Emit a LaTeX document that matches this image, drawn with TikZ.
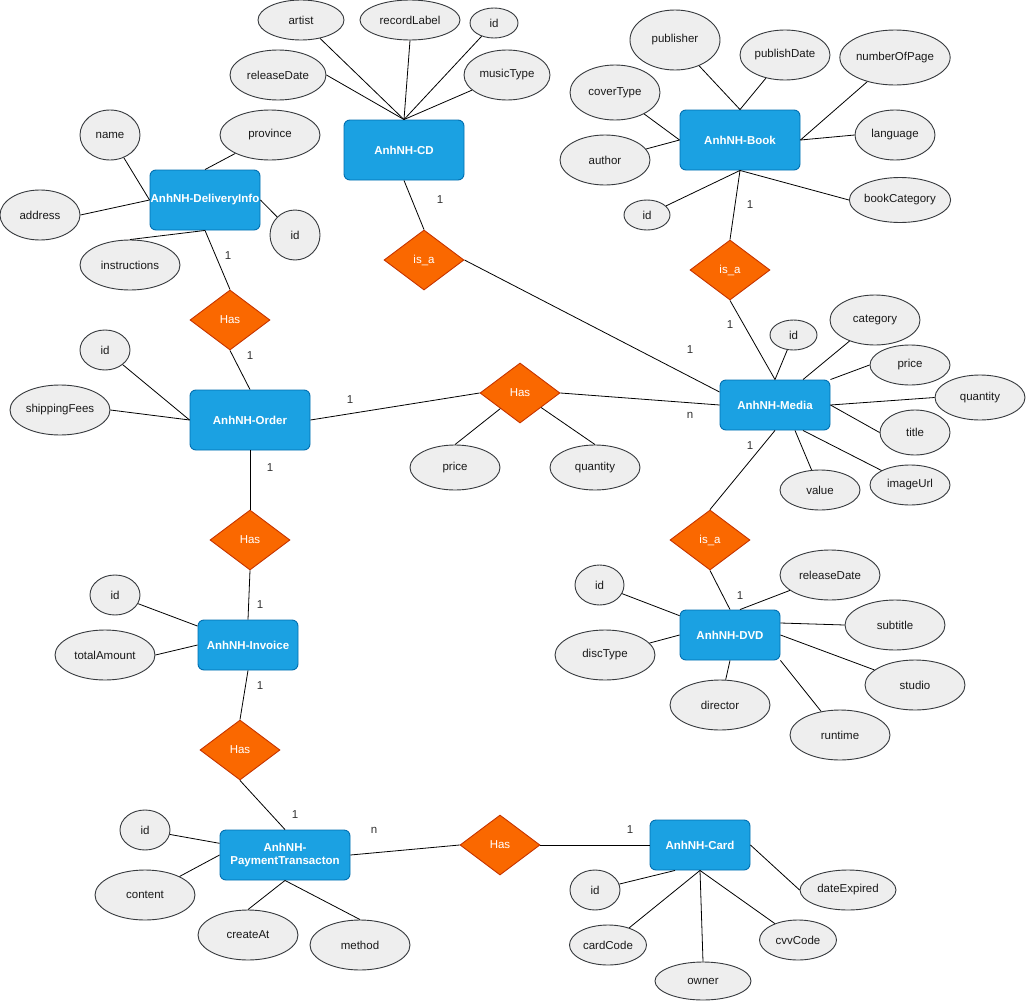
\documentclass[tikz,border=0pt]{standalone}
\usepackage{fontspec}
\setmainfont{Liberation Sans}
\usetikzlibrary{shapes.geometric}
\definecolor{entityfill}{HTML}{1BA1E2}
\definecolor{entitydraw}{HTML}{006EAF}
\definecolor{relfill}{HTML}{FA6800}
\definecolor{reldraw}{HTML}{C73500}
\definecolor{attrfill}{HTML}{EEEEEE}
\definecolor{attrdraw}{HTML}{36393D}
\definecolor{attrtext}{HTML}{1A1A1A}
\definecolor{cardtext}{HTML}{333333}
\newcommand{\erfont}{\fontsize{11.5}{13.5}\selectfont}
\tikzstyle{entity}=[draw=entitydraw, fill=entityfill, rounded corners=6pt, text=white, font=\erfont\bfseries, align=center, inner sep=0, line width=0.9pt]
\tikzstyle{relation}=[diamond, draw=reldraw, fill=relfill, text=white, font=\erfont, inner sep=0, minimum width=80, minimum height=60, line width=0.9pt]
\tikzstyle{attribute}=[ellipse, draw=attrdraw, fill=attrfill, text=attrtext, font=\erfont, inner sep=0, line width=0.9pt]
\tikzstyle{cardinality}=[text=cardtext, font=\erfont]
\tikzstyle{link}=[black, line width=0.8pt]

\begin{document}
\begin{tikzpicture}[x=1pt, y=-1pt]
  \useasboundingbox[fill=white] (0,0) rectangle (1026,1001);

  \node[entity, minimum width=120, minimum height=60] (cd) at (404,150) {AnhNH-CD};
  \node[entity, minimum width=110, minimum height=60] (delivery) at (205,200) {AnhNH-DeliveryInfo};
  \node[entity, minimum width=120, minimum height=60] (book) at (740,140) {AnhNH-Book};
  \node[entity, minimum width=120, minimum height=60] (order) at (250,420) {AnhNH-Order};
  \node[entity, minimum width=110, minimum height=50] (media) at (775,405) {AnhNH-Media};
  \node[entity, minimum width=100, minimum height=50] (invoice) at (248,645) {AnhNH-Invoice};
  \node[entity, minimum width=100, minimum height=50] (dvd) at (730,635) {AnhNH-DVD};
  \node[entity, minimum width=130, minimum height=50] (payment) at (285,855) {AnhNH-\\PaymentTransacton};
  \node[entity, minimum width=100, minimum height=50] (card) at (700,845) {AnhNH-Card};

  \node[relation] (cd_isa) at (424,260) {is\_a};
  \node[relation] (delivery_has) at (230,320) {Has};
  \node[relation] (book_isa) at (730,270) {is\_a};
  \node[relation] (order_has) at (520,393) {Has};
  \node[relation] (invoice_has) at (250,540) {Has};
  \node[relation] (dvd_isa) at (710,540) {is\_a};
  \node[relation] (payment_has) at (240,750) {Has};
  \node[relation] (card_has) at (500,845) {Has};

  \node[attribute, minimum width=86, minimum height=40] (cd_artist) at (301,20) {artist};
  \node[attribute, minimum width=100, minimum height=40] (cd_label) at (410,20) {recordLabel};
  \node[attribute, minimum width=48, minimum height=30] (cd_id) at (494,23) {id};
  \node[attribute, minimum width=96, minimum height=50] (cd_release) at (278,75) {releaseDate};
  \node[attribute, minimum width=86, minimum height=50] (cd_music) at (507,75) {musicType};

  \node[attribute, minimum width=60, minimum height=50] (delivery_name) at (110,135) {name};
  \node[attribute, minimum width=100, minimum height=50] (delivery_province) at (270,135) {province};
  \node[attribute, minimum width=80, minimum height=50] (delivery_address) at (40,215) {address};
  \node[attribute, minimum width=50, minimum height=50] (delivery_id) at (295,235) {id};
  \node[attribute, minimum width=100, minimum height=50] (delivery_instr) at (130,265) {instructions};

  \node[attribute, minimum width=90, minimum height=60] (book_publisher) at (675,40) {publisher};
  \node[attribute, minimum width=90, minimum height=50] (book_date) at (785,55) {publishDate};
  \node[attribute, minimum width=90, minimum height=55] (book_pages) at (895,57.5) {numberOfPage};
  \node[attribute, minimum width=90, minimum height=55] (book_cover) at (615,92.5) {coverType};
  \node[attribute, minimum width=80, minimum height=50] (book_lang) at (895,135) {language};
  \node[attribute, minimum width=90, minimum height=50] (book_author) at (605,160) {author};
  \node[attribute, minimum width=100, minimum height=45] (book_category) at (900,200) {bookCategory};
  \node[attribute, minimum width=46, minimum height=30] (book_id) at (647,215) {id};

  \node[attribute, minimum width=50, minimum height=40] (order_id) at (105,350) {id};
  \node[attribute, minimum width=100, minimum height=50] (order_fees) at (60,410) {shippingFees};
  \node[attribute, minimum width=90, minimum height=45] (order_has_price) at (455,467.5) {price};
  \node[attribute, minimum width=90, minimum height=45] (order_has_qty) at (595,467.5) {quantity};

  \node[attribute, minimum width=50, minimum height=40] (invoice_id) at (115,595) {id};
  \node[attribute, minimum width=100, minimum height=50] (invoice_total) at (105,655) {totalAmount};

  \node[attribute, minimum width=47, minimum height=30] (media_id) at (793.5,335) {id};
  \node[attribute, minimum width=90, minimum height=50] (media_category) at (875,320) {category};
  \node[attribute, minimum width=80, minimum height=40] (media_price) at (910,365) {price};
  \node[attribute, minimum width=90, minimum height=45] (media_qty) at (980,397.5) {quantity};
  \node[attribute, minimum width=70, minimum height=45] (media_title) at (915,432.5) {title};
  \node[attribute, minimum width=80, minimum height=40] (media_image) at (910,485) {imageUrl};
  \node[attribute, minimum width=80, minimum height=40] (media_value) at (820,490) {value};

  \node[attribute, minimum width=49, minimum height=40] (dvd_id) at (599.5,585) {id};
  \node[attribute, minimum width=100, minimum height=50] (dvd_release) at (830,575) {releaseDate};
  \node[attribute, minimum width=100, minimum height=50] (dvd_subtitle) at (895,625) {subtitle};
  \node[attribute, minimum width=100, minimum height=50] (dvd_disc) at (605,655) {discType};
  \node[attribute, minimum width=100, minimum height=50] (dvd_studio) at (915,685) {studio};
  \node[attribute, minimum width=100, minimum height=50] (dvd_director) at (720,705) {director};
  \node[attribute, minimum width=100, minimum height=50] (dvd_runtime) at (840,735) {runtime};

  \node[attribute, minimum width=50, minimum height=40] (payment_id) at (145,830) {id};
  \node[attribute, minimum width=100, minimum height=50] (payment_content) at (145,895) {content};
  \node[attribute, minimum width=100, minimum height=50] (payment_create) at (248,935) {createAt};
  \node[attribute, minimum width=100, minimum height=50] (payment_method) at (360,945) {method};

  \node[attribute, minimum width=50, minimum height=40] (card_id) at (595,890) {id};
  \node[attribute, minimum width=77, minimum height=40] (card_code) at (608,945) {cardCode};
  \node[attribute, minimum width=96, minimum height=38] (card_owner) at (703,981) {owner};
  \node[attribute, minimum width=77, minimum height=40] (card_cvv) at (798,940) {cvvCode};
  \node[attribute, minimum width=96, minimum height=40] (card_expired) at (848,890) {dateExpired};

  \node[cardinality] (cd_isa_1) at (440,200) {1};
  \node[cardinality] (isa_media_1) at (690,350) {1};
  \node[cardinality] (delivery_has_1) at (228,256) {1};
  \node[cardinality] (has_order_1) at (250,356) {1};
  \node[cardinality] (order_has_1) at (350,400) {1};
  \node[cardinality] (has_media_n) at (690,415) {n};
  \node[cardinality] (order_inv_1) at (270,468) {1};
  \node[cardinality] (has_invoice_1) at (260,605) {1};
  \node[cardinality] (invoice_has_1) at (260,686) {1};
  \node[cardinality] (has_payment_1) at (295,815) {1};
  \node[cardinality] (payment_has_n) at (374,830) {n};
  \node[cardinality] (has_card_1) at (630,830) {1};
  \node[cardinality] (book_isa_1) at (750,205) {1};
  \node[cardinality] (book_media_1) at (730,325) {1};
  \node[cardinality] (media_isa_1) at (750,446) {1};
  \node[cardinality] (isa_dvd_1) at (740,596) {1};

  \draw[link] (cd_artist) -- (cd.north);
  \draw[link] (cd_label.south) -- (cd.north);
  \draw[link] (cd_id) -- (cd.north);
  \draw[link] (cd_release.east) -- (cd.north);
  \draw[link] (cd_music) -- (cd.north);
  \draw[link] (cd.south) -- (cd_isa.north);
  \draw[link] (cd_isa.east) -- ([yshift=13pt]media.west);

  \draw[link] (delivery_name) -- (delivery.west);
  \draw[link] (delivery_address.east) -- (delivery.west);
  \draw[link] (delivery_province) -- (delivery.north);
  \draw[link] (delivery.east) -- (delivery_id);
  \draw[link] (delivery_instr.north) -- (delivery.south);
  \draw[link] (delivery.south) -- (delivery_has.north);
  \draw[link] (delivery_has.south) -- (order.north);

  \draw[link] (book_publisher) -- (book.north);
  \draw[link] (book_date) -- (book.north);
  \draw[link] (book_pages) -- (book.east);
  \draw[link] (book_lang.west) -- (book.east);
  \draw[link] (book_cover) -- (book.west);
  \draw[link] (book_author) -- (book.west);
  \draw[link] (book_id) -- (book.south);
  \draw[link] (book_category.west) -- (book.south);
  \draw[link] (book.south) -- (book_isa.north);
  \draw[link] (book_isa.south) -- (media.north);

  \draw[link] (media_id) -- (media.north);
  \draw[link] (media_category) -- ([xshift=28pt]media.north);
  \draw[link] (media_price.west) -- (media.north east);
  \draw[link] (media_qty.west) -- (media.east);
  \draw[link] (media_title.west) -- (media.east);
  \draw[link] (media_image) -- ([xshift=28pt]media.south);
  \draw[link] (media_value) -- ([xshift=20pt]media.south);
  \draw[link] (media.south) -- (dvd_isa.north);

  \draw[link] (dvd_isa.south) -- (dvd.north);
  \draw[link] (dvd_id) -- (dvd);
  \draw[link] (dvd_disc) -- (dvd.west);
  \draw[link] (dvd_release) -- ([xshift=10pt]dvd.north);
  \draw[link] ([yshift=12pt]dvd.east) -- (dvd_subtitle.west);
  \draw[link] (dvd.east) -- (dvd_studio);
  \draw[link] (dvd.south east) -- (dvd_runtime);
  \draw[link] (dvd.south) -- (dvd_director);

  \draw[link] (order_id) -- (order.west);
  \draw[link] (order_fees.east) -- (order.west);
  \draw[link] (order.east) -- (order_has.west);
  \draw[link] (order_has.east) -- (media.west);
  \draw[link] (order_has_price.north) -- (order_has);
  \draw[link] (order_has_qty.north) -- (order_has);
  \draw[link] (order.south) -- (invoice_has.north);
  \draw[link] (invoice_has.south) -- (invoice.north);

  \draw[link] (invoice_id) -- (invoice);
  \draw[link] (invoice_total.east) -- (invoice.west);
  \draw[link] (invoice.south) -- (payment_has.north);
  \draw[link] (payment_has.south) -- (payment.north);

  \draw[link] (payment_id) -- (payment);
  \draw[link] (payment_content) -- (payment.west);
  \draw[link] (payment_create.north) -- (payment.south);
  \draw[link] (payment_method.north) -- (payment.south);
  \draw[link] (payment.east) -- (card_has.west);
  \draw[link] (card_has.east) -- (card.west);

  \draw[link] (card_id) -- ([xshift=-25pt]card.south);
  \draw[link] (card_code) -- (card.south);
  \draw[link] (card_owner.north) -- (card.south);
  \draw[link] (card_cvv) -- (card.south);
  \draw[link] (card.east) -- (card_expired.west);
\end{tikzpicture}
\end{document}
